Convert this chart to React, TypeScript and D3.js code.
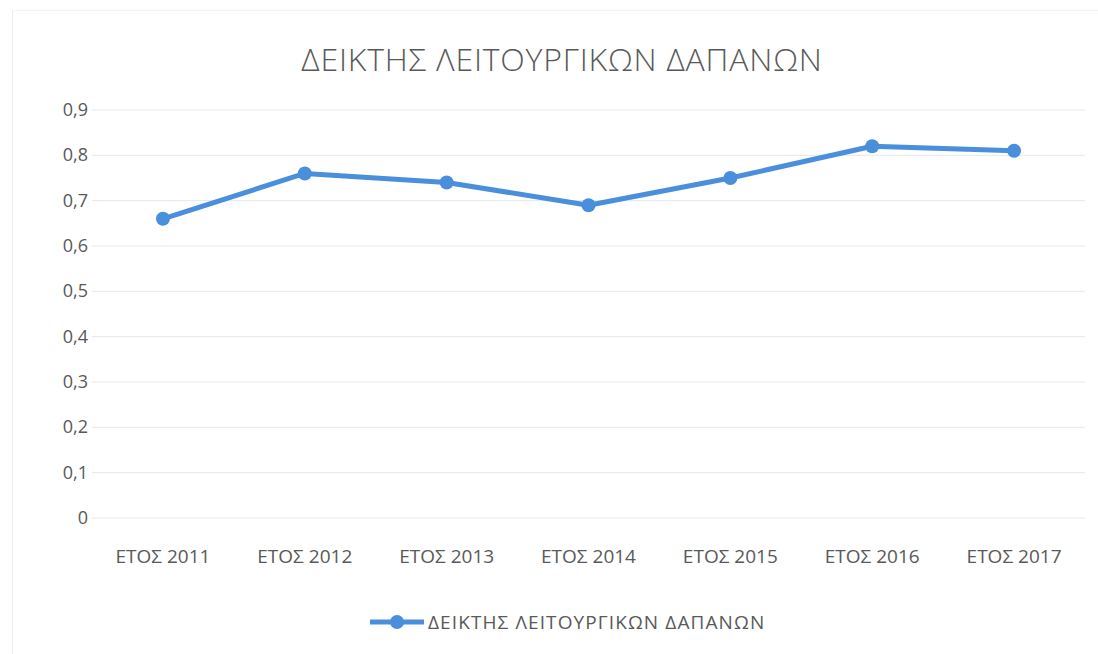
import React from "react";
import * as d3 from "d3";

const title = "ΔΕΙΚΤΗΣ ΛΕΙΤΟΥΡΓΙΚΩΝ ΔΑΠΑΝΩΝ";
const seriesName = "ΔΕΙΚΤΗΣ ΛΕΙΤΟΥΡΓΙΚΩΝ ΔΑΠΑΝΩΝ";
const categories = ["ΕΤΟΣ 2011", "ΕΤΟΣ 2012", "ΕΤΟΣ 2013", "ΕΤΟΣ 2014", "ΕΤΟΣ 2015", "ΕΤΟΣ 2016", "ΕΤΟΣ 2017"];
const values = [0.66, 0.76, 0.74, 0.69, 0.75, 0.82, 0.81];
const yTicks = [0, 0.1, 0.2, 0.3, 0.4, 0.5, 0.6, 0.7, 0.8, 0.9];

const W = 1098;
const H = 654;
const FONT = "'Open Sans', 'Noto Sans', sans-serif";
const LINE = "#4a8fdc";

export default function App() {
  const x = d3.scaleBand<string>().domain(categories).range([92, 1085]);
  const y = d3.scaleLinear().domain([0, 0.9]).range([518, 110]);
  const line = d3
    .line<number>()
    .x((_, i) => (x(categories[i]) as number) + x.bandwidth() / 2)
    .y((d) => y(d));
  const fmt = (v: number) => (v === 0 ? "0" : d3.format(".1f")(v).replace(".", ","));

  return (
    <svg
      width={W}
      height={H}
      style={{ position: "absolute", left: 0, top: 0, background: "#fff" }}
      fontFamily={FONT}
    >
      <rect x={0} y={0} width={W} height={H} fill="#fff" />
      <line x1={12.5} y1={10} x2={12.5} y2={654} stroke="#ececec" strokeWidth={1} />
      <line x1={12} y1={10.5} x2={1098} y2={10.5} stroke="#f3f3f3" strokeWidth={1} />
      <text x={562} y={71} textAnchor="middle" fontSize={32} fontWeight={300} letterSpacing={0.8} fill="#595959">
        {title}
      </text>
      {yTicks.map((t) => (
        <g key={t}>
          <line x1={92} x2={1085} y1={y(t)} y2={y(t)} stroke="#e6e6e6" strokeWidth={1} />
          <text x={88} y={y(t) + 6} textAnchor="end" fontSize={18} fill="#595959">
            {fmt(t)}
          </text>
        </g>
      ))}
      {categories.map((c) => (
        <text
          key={c}
          x={(x(c) as number) + x.bandwidth() / 2}
          y={563}
          textAnchor="middle"
          fontSize={19}
          fill="#595959"
        >
          {c}
        </text>
      ))}
      <path d={line(values) || ""} fill="none" stroke={LINE} strokeWidth={5} strokeLinejoin="round" />
      {values.map((v, i) => (
        <circle
          key={i}
          cx={(x(categories[i]) as number) + x.bandwidth() / 2}
          cy={y(v)}
          r={7}
          fill={LINE}
        />
      ))}
      <g>
        <line x1={370} x2={424} y1={622} y2={622} stroke={LINE} strokeWidth={5} />
        <circle cx={397} cy={622} r={7} fill={LINE} />
        <text x={428} y={629} fontSize={19} letterSpacing={1.1} fill="#595959">
          {seriesName}
        </text>
      </g>
    </svg>
  );
}
